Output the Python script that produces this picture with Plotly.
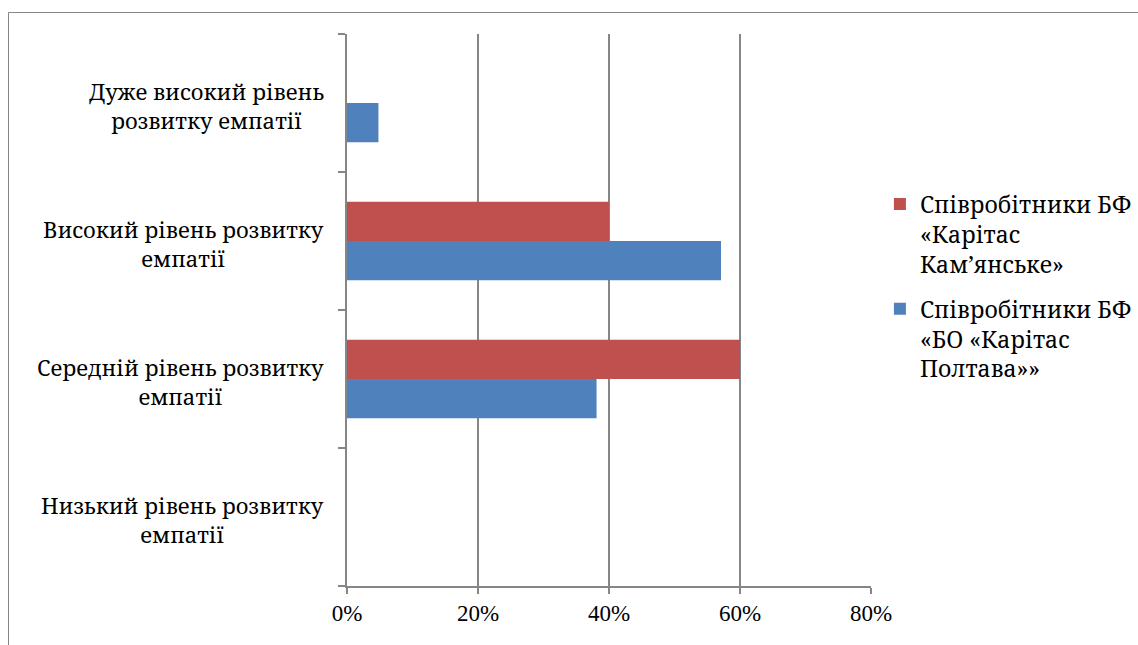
import plotly.graph_objects as go

# Empathy levels, bottom to top
levels = ["Низький", "Середній", "Високий", "Дуже високий"]
level_labels = [
    "Низький рівень розвитку<br>емпатії",
    "Середній рівень розвитку<br>емпатії",
    "Високий рівень розвитку<br>емпатії",
    "Дуже високий рівень<br>розвитку емпатії",
]

# Shares of employees per level
poltava = [0.0, 0.381, 0.571, 0.048]
kamianske = [0.0, 0.60, 0.40, 0.0]

name_poltava = "Співробітники БФ<br>«БО «Карітас<br>Полтава»»"
name_kamianske = "Співробітники БФ<br>«Карітас<br>Кам’янське»"

x_ticks = [0, 0.2, 0.4, 0.6, 0.8]

TEXT_FONT = "Noto Serif"        # Cyrillic labels and legend
NUM_FONT = "Liberation Serif"   # percentage ticks
GRAY = "#868686"

fig = go.Figure()
fig.add_trace(go.Bar(
    y=levels, x=poltava, orientation="h", name=name_poltava,
    legendgroup="poltava", legendrank=2,
    marker=dict(color="#4F81BD", line=dict(width=0)),
))
fig.add_trace(go.Bar(
    y=levels, x=kamianske, orientation="h", name=name_kamianske,
    legendgroup="kamianske", legendrank=1,
    marker=dict(color="#C0504D", line=dict(width=0)),
))

# Category labels, lines centred on each other, to the left of the axis
for lvl, lab in zip(levels, level_labels):
    fig.add_annotation(
        x=-0.0403, xref="paper", y=lvl, yref="y", yshift=-2,
        text=lab, showarrow=False, xanchor="right", yanchor="middle",
        align="center", font=dict(family=TEXT_FONT, size=22, color="#000"),
    )

# Outer chart frame
fig.add_shape(type="rect", xref="paper", yref="paper",
              x0=(8.5 - 347) / 524, x1=3, y0=-3, y1=(586 - 12.5) / 552,
              line=dict(color=GRAY, width=1), layer="below")

fig.update_layout(
    width=1138, height=645,
    margin=dict(l=347, r=267, t=34, b=59, autoexpand=False),
    paper_bgcolor="white", plot_bgcolor="white",
    barmode="group", bargap=0.43, bargroupgap=0,
    font=dict(family=TEXT_FONT, size=22, color="#000"),
    xaxis=dict(
        range=[0, 0.8], tickvals=x_ticks, tickformat=".0%",
        showgrid=True, gridcolor=GRAY, gridwidth=1.5,
        showline=True, linecolor=GRAY, linewidth=1.5,
        ticks="outside", ticklen=6, tickcolor=GRAY, tickwidth=1.5,
        zeroline=False, fixedrange=True,
        tickfont=dict(family=NUM_FONT, size=23, color="#000"),
    ),
    yaxis=dict(
        categoryorder="array", categoryarray=levels,
        showticklabels=False, tickson="boundaries",
        ticks="outside", ticklen=7, tickcolor=GRAY, tickwidth=1.5,
        showline=True, linecolor=GRAY, linewidth=1.5,
        showgrid=False, zeroline=False, fixedrange=True,
    ),
    legend=dict(
        x=1.017, y=0.731, xanchor="left", yanchor="top",
        traceorder="grouped", valign="top",
        font=dict(family=TEXT_FONT, size=23, color="#000"),
        itemwidth=30, tracegroupgap=12,
    ),
)

fig.write_html("out.html")
